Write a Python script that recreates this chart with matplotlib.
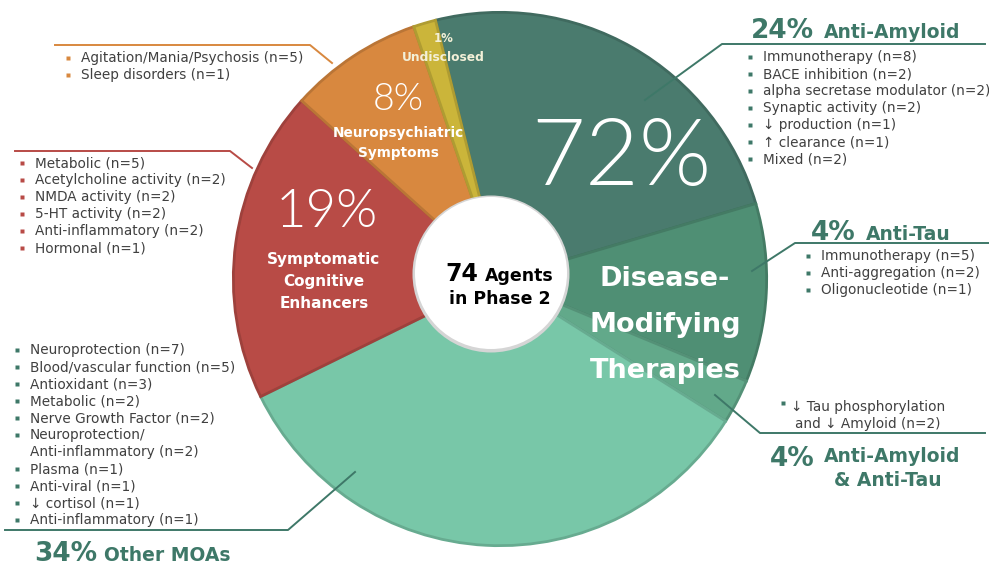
import matplotlib
matplotlib.use("Agg")
import matplotlib.pyplot as plt
from matplotlib.patches import Ellipse
import matplotlib.colors as mcolors

# ---------------- data ----------------
slice_names = ["Anti-Amyloid", "Anti-Tau", "Anti-Amyloid & Anti-Tau", "Other MOAs",
               "Symptomatic Cognitive Enhancers", "Neuropsychiatric Symptoms", "Undisclosed"]
slice_counts = [18, 8, 2, 25, 14, 6, 1]
slice_colors = ["#4a7b6e", "#4f8f74", "#62a98a", "#78c7a8", "#b84b46", "#d8883f", "#cbb53a"]

amyloid_items = ["Immunotherapy (n=8)", "BACE inhibition (n=2)", "alpha secretase modulator (n=2)",
                 "Synaptic activity (n=2)", "\u2193 production (n=1)", "\u2191 clearance (n=1)", "Mixed (n=2)"]
tau_items = ["Immunotherapy (n=5)", "Anti-aggregation (n=2)", "Oligonucleotide (n=1)"]
amy_tau_items = ["\u2193 Tau phosphorylation", "and \u2193 Amyloid (n=2)"]
neuro_items = ["Agitation/Mania/Psychosis (n=5)", "Sleep disorders (n=1)"]
symp_items = ["Metabolic (n=5)", "Acetylcholine activity (n=2)", "NMDA activity (n=2)",
              "5-HT activity (n=2)", "Anti-inflammatory (n=2)", "Hormonal (n=1)"]
other_items = ["Neuroprotection (n=7)", "Blood/vascular function (n=5)", "Antioxidant (n=3)",
               "Metabolic (n=2)", "Nerve Growth Factor (n=2)", "Neuroprotection/",
               "Anti-inflammatory (n=2)", "Plasma (n=1)", "Anti-viral (n=1)",
               "\u2193 cortisol (n=1)", "Anti-inflammatory (n=1)"]
other_bullets = [True, True, True, True, True, True, False, True, True, True, True]

W, H = 989, 569
FONT = "DejaVu Sans"
THIN = "Lato"
TEAL = "#3e7868"
GREY = "#404040"

fig = plt.figure(figsize=(W / 100, H / 100), dpi=100)
fig.patch.set_facecolor("white")

# pie axes: circle centred at (500, 279) px, radius 268 px
pcx, pcy, pr = 500, 279, 268
pax = fig.add_axes([(pcx - pr) / W, (H - pcy - pr) / H, 2 * pr / W, 2 * pr / H])
pax.set_zorder(0)
wedges, _ = pax.pie(slice_counts, colors=slice_colors, startangle=104, counterclock=False,
                    radius=1.0, center=(0, 0))
for w, c in zip(wedges, slice_colors):
    dark = tuple(v * 0.86 for v in mcolors.to_rgb(c))
    w.set_edgecolor(dark)
    w.set_linewidth(2.0)
pax.set_xlim(-1.005, 1.005)
pax.set_ylim(-1.005, 1.005)
pax.set_aspect("auto")
pax.axis("off")

# main overlay axes in pixel coordinates
ax = fig.add_axes([0, 0, 1, 1])
ax.set_zorder(1)
ax.patch.set_alpha(0)
ax.set_xlim(0, W)
ax.set_ylim(H, 0)
ax.axis("off")

# centre hole
ax.add_patch(Ellipse((491, 274), 157, 157, facecolor="#d5d5d5", edgecolor="none", zorder=2))
ax.add_patch(Ellipse((491, 273), 152, 152, facecolor="white", edgecolor="none", zorder=3))


def txt(x, y, s, size, color=GREY, weight="normal", ha="left", va="baseline", fam=FONT, **kw):
    ax.text(x, y, s, fontsize=size, color=color, fontweight=weight, ha=ha, va=va,
            family=[fam, "DejaVu Sans"], zorder=5, **kw)


# centre text
txt(478, 281, "74", 17, color="black", weight="bold", ha="right")
txt(485, 281, "Agents", 12.5, color="black", weight="bold")
txt(500, 304, "in Phase 2", 12.5, color="black", weight="bold", ha="center")

# in-pie labels
txt(621, 159, "72%", 67, color="white", weight=300, ha="center", va="center", fam=THIN)
txt(665, 279, "Disease-", 19.5, color="white", weight="bold", ha="center", va="center")
txt(665, 325, "Modifying", 19.5, color="white", weight="bold", ha="center", va="center")
txt(665, 371, "Therapies", 19.5, color="white", weight="bold", ha="center", va="center")
txt(327, 212, "19%", 38, color="white", weight=300, ha="center", va="center", fam=THIN)
for i, s in enumerate(["Symptomatic", "Cognitive", "Enhancers"]):
    txt(324, 259 + i * 22, s, 11, color="white", weight="bold", ha="center", va="center")
txt(398, 100, "8%", 27, color="white", weight=300, ha="center", va="center", fam=THIN)
txt(398, 133, "Neuropsychiatric", 9.8, color="white", weight="bold", ha="center", va="center")
txt(398, 153, "Symptoms", 9.8, color="white", weight="bold", ha="center", va="center")
txt(444, 38, "1%", 8.5, color="#f3f0d8", weight="bold", ha="center", va="center")
txt(443, 57, "Undisclosed", 8.8, color="#f3f0d8", weight="bold", ha="center", va="center")


def bullets(x, y0, items, color, dy=17, flags=None, size=9.8):
    for i, s in enumerate(items):
        y = y0 + i * dy
        if flags is None or flags[i]:
            ax.plot([x], [y - 4], marker="s", ms=3.2, color=color, zorder=5, mec="none")
        txt(x + 13, y, s, size, color=GREY)


# ---- right side: Anti-Amyloid
txt(751, 38, "24%", 19, color=TEAL, weight="bold")
txt(824, 38, "Anti-Amyloid", 13.5, color=TEAL, weight="bold")
ax.plot([645, 722, 985], [100, 44, 44], color=TEAL, lw=1.4, zorder=4)
bullets(750, 61, amyloid_items, TEAL)

# ---- Anti-Tau
txt(811, 240, "4%", 19, color=TEAL, weight="bold")
txt(866, 240, "Anti-Tau", 13.5, color=TEAL, weight="bold")
ax.plot([752, 795, 989], [271, 243, 243], color=TEAL, lw=1.4, zorder=4)
bullets(808, 260, tau_items, TEAL)

# ---- Anti-Amyloid & Anti-Tau
ax.plot([783], [403], marker="s", ms=3.2, color=TEAL, zorder=5, mec="none")
txt(868, 411, amy_tau_items[0], 9.8, color=GREY, ha="center")
txt(868, 428, amy_tau_items[1], 9.8, color=GREY, ha="center")
ax.plot([715, 760, 985], [395, 433, 433], color=TEAL, lw=1.4, zorder=4)
txt(770, 466, "4%", 19, color=TEAL, weight="bold")
txt(824, 462, "Anti-Amyloid", 13.5, color=TEAL, weight="bold")
txt(888, 486, "& Anti-Tau", 13.5, color=TEAL, weight="bold", ha="center")

# ---- left: Neuropsychiatric
ORANGE = "#d8883f"
ax.plot([55, 310, 332], [45, 45, 63], color=ORANGE, lw=1.4, zorder=4)
bullets(68, 62, neuro_items, ORANGE)

# ---- left: Symptomatic
RED = "#b84b46"
ax.plot([15, 230, 252], [151, 151, 168], color=RED, lw=1.4, zorder=4)
bullets(22, 167, symp_items, RED)

# ---- left: Other MOAs
ax.plot([5, 288, 355], [530, 530, 472], color=TEAL, lw=1.4, zorder=4)
bullets(17, 354, other_items, TEAL, flags=other_bullets)
txt(34, 561, "34%", 19, color=TEAL, weight="bold")
txt(104, 561, "Other MOAs", 13.5, color=TEAL, weight="bold")

fig.savefig("out.png", dpi=100, facecolor="white")
